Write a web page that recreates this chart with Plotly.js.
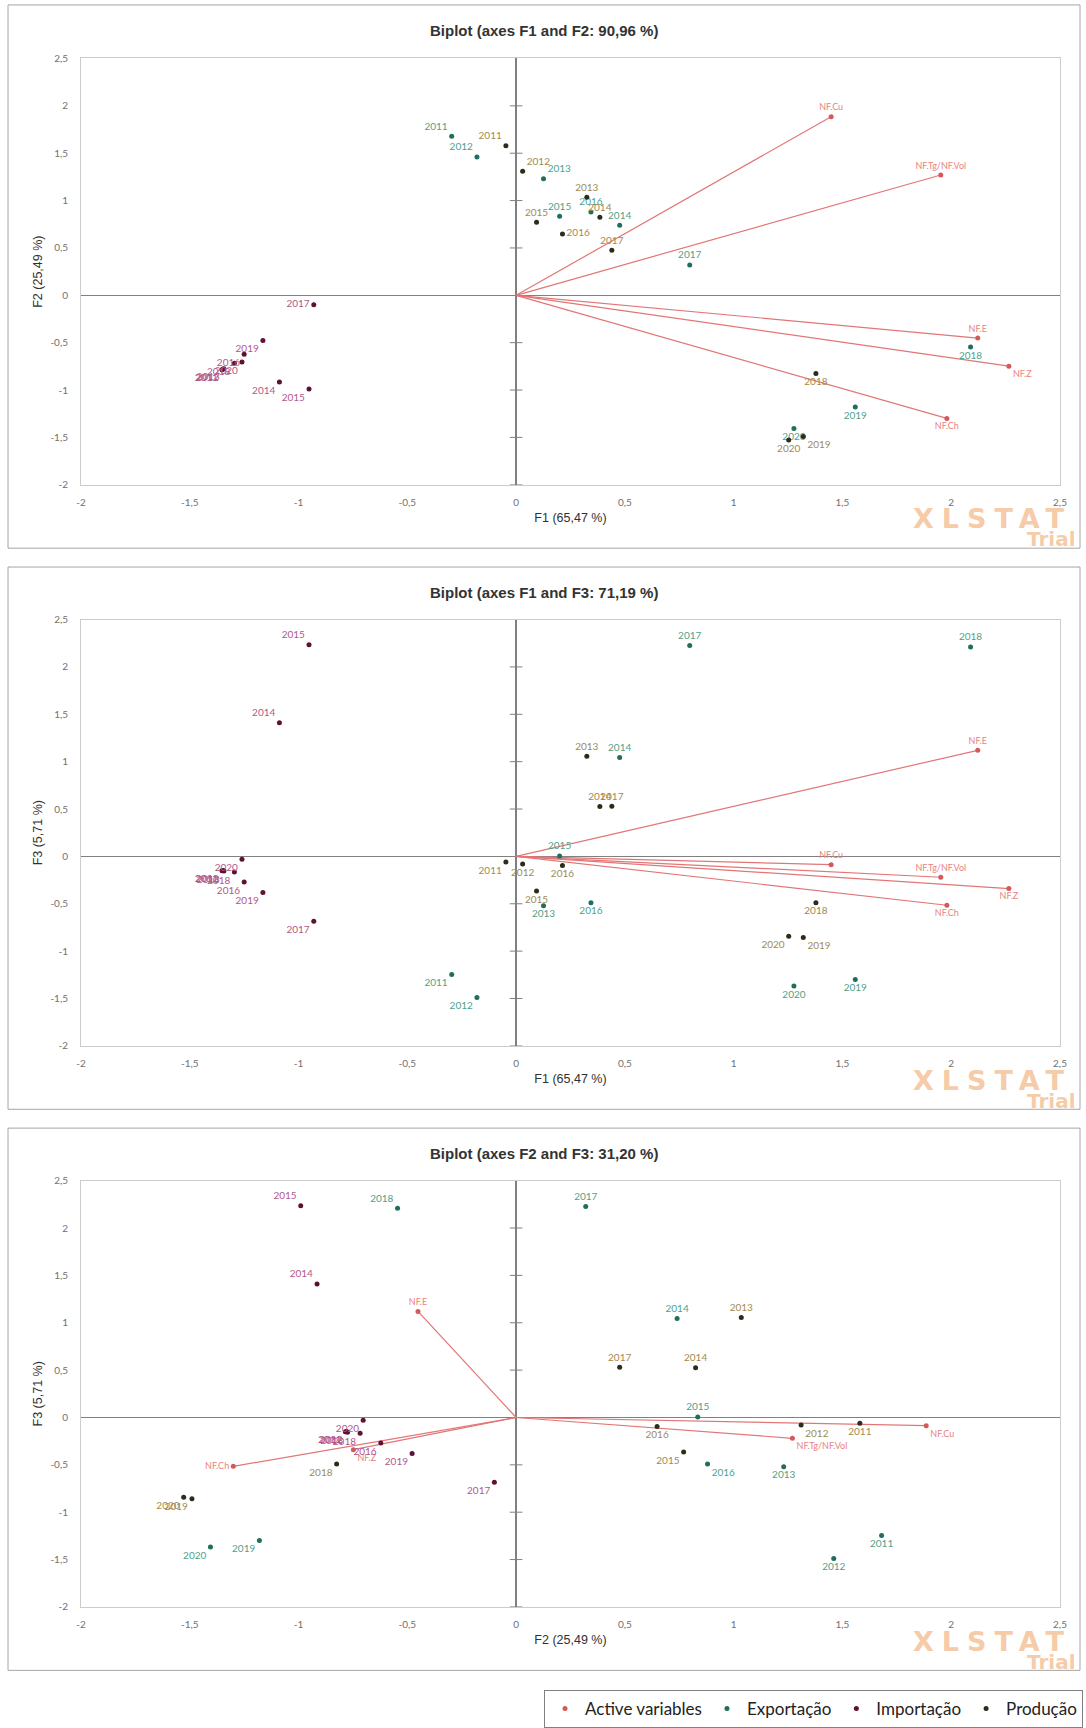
<!DOCTYPE html>
<html><head><meta charset="utf-8">
<script src="https://cdn.plot.ly/plotly-3.0.1.min.js"></script>
<style>html,body{margin:0;padding:0;background:#fff;} #chart{width:1086px;height:1728px;}</style>
</head><body><div id="chart"></div>
<script>
// ---------------- DATA ----------------
const years = ['2011','2012','2013','2014','2015','2016','2017','2018','2019','2020'];
const expF1 = [-0.296,-0.18,0.126,0.476,0.2,0.344,0.798,2.089,1.559,1.277];
const expF2 = [1.68,1.46,1.23,0.74,0.835,0.88,0.32,-0.545,-1.18,-1.405];
const expF3 = [-1.247,-1.49,-0.52,1.045,0.005,-0.49,2.226,2.21,-1.30,-1.368];
const impF1 = [-1.352,-1.347,-1.343,-1.088,-0.952,-1.25,-0.93,-1.295,-1.164,-1.26];
const impF2 = [-0.785,-0.779,-0.775,-0.915,-0.99,-0.622,-0.10,-0.717,-0.478,-0.703];
const impF3 = [-0.152,-0.148,-0.155,1.41,2.235,-0.27,-0.685,-0.166,-0.38,-0.03];
const prodF1 = [-0.047,0.03,0.325,0.385,0.094,0.213,0.44,1.378,1.32,1.253];
const prodF2 = [1.58,1.31,1.035,0.825,0.77,0.648,0.476,-0.825,-1.49,-1.528];
const prodF3 = [-0.06,-0.08,1.056,0.526,-0.365,-0.096,0.53,-0.49,-0.857,-0.843];
const varNames = ['NF.Cu','NF.Tg/NF.Vol','NF.E','NF.Z','NF.Ch'];
const varF1 = [1.448,1.952,2.122,2.265,1.98];
const varF2 = [1.885,1.27,-0.451,-0.748,-1.30];
const varF3 = [-0.087,-0.22,1.12,-0.34,-0.516];
const tickVals = [-2,-1.5,-1,-0.5,0,0.5,1,1.5,2,2.5];
const tickText = ['-2','-1,5','-1','-0,5','0','0,5','1','1,5','2','2,5'];
const panelTitles = ['Biplot (axes F1 and F2: 90,96 %)','Biplot (axes F1 and F3: 71,19 %)','Biplot (axes F2 and F3: 31,20 %)'];
const axisTitles = {F1:'F1 (65,47 %)', F2:'F2 (25,49 %)', F3:'F3 (5,71 %)'};
const panelAxes = [['F1','F2'],['F1','F3'],['F2','F3']];
const groupNames = ['Exportação','Importação','Produção'];

// ---------------- STYLE ----------------
const posExp = [
 ['top left','top left','top right','top center','top center','top center','top center','bottom center','bottom center','bottom center'],
 ['bottom left','bottom left','bottom center','top center','top center','bottom center','top center','top center','bottom center','bottom center'],
 ['bottom center','bottom center','bottom center','top center','top center','bottom right','top center','top left','bottom left','bottom left']];
const posImp = [
 ['bottom left','bottom left','bottom left','bottom left','bottom left','bottom left','middle left','bottom left','bottom left','bottom left'],
 ['bottom left','bottom left','bottom left','top left','top left','bottom left','bottom left','bottom left','bottom left','bottom left'],
 ['bottom left','bottom left','bottom left','top left','top left','bottom left','bottom left','bottom left','bottom left','bottom left']];
const posProd = [
 ['top left','top right','top center','top center','top center','middle right','top center','bottom center','bottom right','bottom center'],
 ['bottom left','bottom center','top center','top center','bottom center','bottom center','top center','bottom center','bottom right','bottom left'],
 ['bottom center','bottom right','top center','top center','bottom left','bottom center','top center','bottom left','bottom left','bottom left']];
const posAct = [
 ['top center','top center','top center','bottom right','bottom center'],
 ['top center','top center','top center','bottom center','bottom center'],
 ['bottom right','bottom right','top center','bottom right','middle left']];
const markerColors = ['#1f6e5e','#5e1232','#2c2c1a'];
const labelColors = ['#4f9f8a','#b0588a','#a08a52'];
const actLine = '#e27676', actMarker = '#d45a5a', actLabel = '#e8837f';
const wmColor = '#f6cba8';

const W = 1086, H = 1728;
const plotLeft = 81, plotRight = 1060, plotH = 430;
const plotTops = [59, 625, 1191];
const frames = [[5,553],[572,1119],[1138,1685]];

const groupData = [
  {F1: expF1, F2: expF2, F3: expF3},
  {F1: impF1, F2: impF2, F3: impF3},
  {F1: prodF1, F2: prodF2, F3: prodF3}];
const varData = {F1: varF1, F2: varF2, F3: varF3};
const groupPos = [posExp, posImp, posProd];

const traces = [];
const layout = {
  width: W, height: H, autosize: false,
  margin: {l:0, r:0, t:0, b:0},
  paper_bgcolor: '#fff', plot_bgcolor: '#fff',
  font: {family: 'Lato, sans-serif'},
  hovermode: false,
  showlegend: true,
  legend: {orientation: 'h', x: 1083/W, xanchor: 'right', y: 1 - 1705/H, yanchor: 'top',
           bordercolor: '#808080', borderwidth: 1, bgcolor: '#fff',
           font: {family: 'Lato', size: 17, color: '#222'}, itemwidth: 30, traceorder: 'normal'},
  annotations: [], shapes: []
};

panelAxes.forEach((ax, p) => {
  const xid = p === 0 ? 'x' : 'x' + (p + 1);
  const yid = p === 0 ? 'y' : 'y' + (p + 1);
  const [a, b] = ax;
  const top = plotTops[p];
  varNames.forEach((n, i) => {
    traces.push({type: 'scatter', mode: 'lines', xaxis: xid, yaxis: yid,
      x: [0, varData[a][i]], y: [0, varData[b][i]], showlegend: false,
      line: {color: actLine, width: 1.2}, legendgroup: 'act'});
  });
  traces.push({type: 'scatter', mode: 'markers+text', xaxis: xid, yaxis: yid,
    x: varData[a], y: varData[b], text: varNames, textposition: posAct[p],
    textfont: {family: 'Lato', size: 9, color: actLabel},
    marker: {size: 5, color: actMarker}, name: 'Active variables',
    legendgroup: 'act', showlegend: p === 0, cliponaxis: false});
  groupData.forEach((g, gi) => {
    traces.push({type: 'scatter', mode: 'markers+text', xaxis: xid, yaxis: yid,
      x: g[a], y: g[b], text: years, textposition: groupPos[gi][p],
      textfont: {family: 'Lato', size: 10, color: labelColors[gi]},
      marker: {size: 5, color: markerColors[gi]}, name: groupNames[gi],
      legendgroup: 'g' + gi, showlegend: p === 0, cliponaxis: false});
  });
  const inner = tickVals.filter(v => v !== 0 && v !== tickVals[tickVals.length - 1]);
  traces.push({type: 'scatter', mode: 'markers', xaxis: xid, yaxis: yid,
    x: inner.map(() => 0), y: inner, showlegend: false,
    marker: {symbol: 'line-ew', size: 9, line: {width: 1, color: '#808080'}}});

  const xkey = p === 0 ? 'xaxis' : 'xaxis' + (p + 1);
  const ykey = p === 0 ? 'yaxis' : 'yaxis' + (p + 1);
  const common = {range: [-2, 2.5], tickvals: tickVals, ticktext: tickText, showgrid: false,
    zeroline: true, zerolinecolor: '#808080', zerolinewidth: 1.5,
    showline: true, mirror: true, linecolor: '#cccccc', linewidth: 1, ticks: '',
    tickfont: {family: 'Lato', size: 10, color: '#707070'},
    automargin: false, fixedrange: true};
  layout[xkey] = Object.assign({}, common, {domain: [plotLeft / W, plotRight / W], anchor: yid,
    ticklabelstandoff: 8,
    title: {text: axisTitles[a], font: {family: 'Liberation Sans', size: 12.5, color: '#303030'}, standoff: 6}});
  layout[ykey] = Object.assign({}, common, {domain: [1 - (top + plotH) / H, 1 - top / H], anchor: xid,
    ticklabelstandoff: 10,
    title: {text: axisTitles[b], font: {family: 'Liberation Sans', size: 12.5, color: '#303030'}, standoff: 5}});

  layout.annotations.push({xref: 'paper', yref: 'paper', x: 544 / W, y: 1 - (frames[p][0] + 26) / H,
    xanchor: 'center', yanchor: 'middle', showarrow: false, text: panelTitles[p],
    font: {family: 'Liberation Sans', size: 15, color: '#333', weight: 'bold'}});
  layout.annotations.push({xref: 'paper', yref: 'paper', x: 993 / W, y: 1 - (frames[p][0] + 518) / H,
    xanchor: 'center', yanchor: 'middle', showarrow: false, text: 'XLSTAT',
    font: {family: 'DejaVu Sans', size: 27, color: wmColor, weight: 'bold'}});
  layout.annotations.push({xref: 'paper', yref: 'paper', x: 1078 / W, y: 1 - (frames[p][0] + 539) / H,
    xanchor: 'right', yanchor: 'middle', showarrow: false, text: 'Trial',
    font: {family: 'DejaVu Sans', size: 20, color: wmColor, weight: 'bold'}});
  layout.shapes.push({type: 'rect', xref: 'paper', yref: 'paper', x0: 8 / W, x1: 1080 / W,
    y0: 1 - frames[p][1] / H, y1: 1 - frames[p][0] / H, line: {color: '#a6a6a6', width: 1}, layer: 'below'});
});

Plotly.newPlot('chart', traces, layout, {displayModeBar: false, staticPlot: true}).then(() => {
  document.querySelectorAll('.annotation-text').forEach(t => {
    if (t.textContent === 'XLSTAT') t.style.letterSpacing = '8px';
  });
});
</script>
</body></html>
